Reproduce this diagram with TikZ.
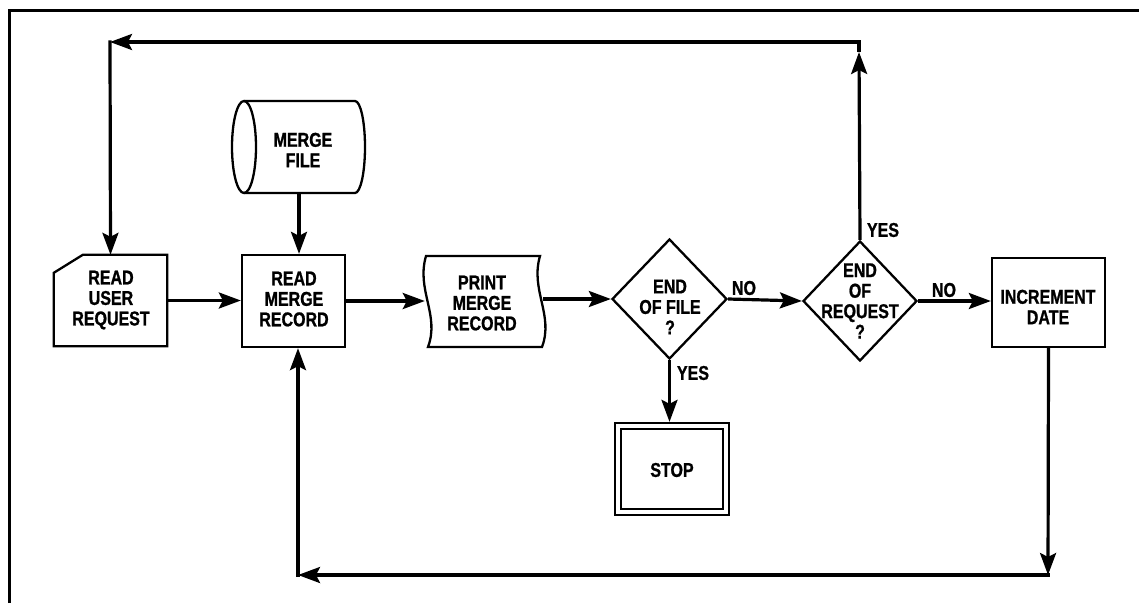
\documentclass[tikz,border=0pt]{standalone}
\usepackage{fontspec}
\setmainfont{Liberation Sans}[FakeStretch=0.8,BoldFeatures={FakeBold=1}]
\usetikzlibrary{shapes.geometric,arrows.meta,calc}
\begin{document}
\begin{tikzpicture}[x=1pt,y=-1pt,
  txt/.style={font=\bfseries\fontsize{20}{20.5}\selectfont, align=center, inner sep=0pt},
  shp/.style={draw, line width=2.3pt},
  box/.style={shp, inner sep=0pt},
  hold/.style={inner sep=0pt},
  conn/.style={line width=3.2pt, -{Stealth[length=22pt,width=16pt,inset=4pt]}},
  rconn/.style={conn, line cap=rect}]
\fill[white] (0,0) rectangle (1139,603);
\useasboundingbox (0,0) rectangle (1139,603);
% frame
\draw[line width=3pt] (9,603) -- (9,10) -- (1139,10);

% READ USER REQUEST (card)
\node[hold, minimum width=113pt, minimum height=91pt] (card) at (110.5,300.5) {};
\draw[shp] ([yshift=-18pt]card.north west) -- ([xshift=29pt]card.north west) -- (card.north east) -- (card.south east) -- (card.south west) -- cycle;
\node[txt] (cardt) at (111,300) {READ\\USER\\REQUEST};

% READ MERGE RECORD
\node[box, minimum width=103pt, minimum height=92pt] (rm) at (293.5,301) {};
\node[txt] (rmt) at (294,299) {READ\\MERGE\\RECORD};

% MERGE FILE (cylinder)
\node[hold, minimum width=133pt, minimum height=92pt] (cyl) at (299,147) {};
\draw[shp] (244,101) -- (355,101) arc[start angle=90, end angle=-90, x radius=10pt, y radius=46pt] -- (244,193);
\draw[shp] (244,147) ellipse[x radius=12pt, y radius=46pt];
\node[txt] (cylt) at (303,150) {MERGE\\FILE};

% PRINT MERGE RECORD
\node[hold, minimum width=118pt, minimum height=91pt] (pm) at (484,301) {};
\draw[shp] (426,256) .. controls (416,290) and (440,315) .. (428,347) -- (542,347) .. controls (554,315) and (530,290) .. (540,256) -- cycle;
\node[txt] (pmt) at (482,303) {PRINT\\MERGE\\RECORD};

% END OF FILE ?
\node[shp, shape=diamond, inner sep=0pt, minimum width=115pt, minimum height=120pt] (d1) at (669.5,299) {};
\node[txt] (d1t) at (670,307) {END\\OF FILE\\?};

% STOP
\node[box, minimum width=114pt, minimum height=92pt] (stop) at (672,469) {};
\draw[shp] ([shift={(7pt,-7pt)}]stop.north west) rectangle ([shift={(-7pt,7pt)}]stop.south east);
\node[txt] (stopt) at (672,470) {STOP};

% END OF REQUEST ?
\node[shp, shape=diamond, inner sep=0pt, minimum width=114pt, minimum height=120pt] (d2) at (860,301) {};
\node[txt] (d2t) at (860,301) {END\\OF\\REQUEST\\?};

% INCREMENT DATE
\node[box, minimum width=113pt, minimum height=89pt] (inc) at (1048.5,302.5) {};
\node[txt] (inct) at (1048,307) {INCREMENT\\DATE};

% labels
\node[txt] (no1) at (744,288) {NO};
\node[txt] (yes1) at (693,373) {YES};
\node[txt] (yes2) at (883,230) {YES};
\node[txt] (no2) at (944,290) {NO};

% loop coordinates
\coordinate (tl) at (110,42);
\coordinate (tr) at (859,42);
\coordinate (tra) at (859,52);
\coordinate (bl) at (298,575);
\coordinate (br) at (1048,575);

% connectors
\draw[conn] (card.east) -- (card.east -| rm.west);
\draw[conn] (cyl.south) -- (cyl.south |- rm.north);
\draw[conn] (rm.east) -- (rm.east -| pm.west);
\draw[conn] (d1.west -| pm.east) -- (d1.west);
\draw[conn] (d1.east) -- (d2.west);
\draw[conn] (d1.south) -- (d1.south |- stop.north);
\draw[conn] (d2.east) -- (d2.east -| inc.west);

\draw[conn] (d2.north) -- (tra);
\draw[conn] (tra) -- (tr) -- (tl);
\draw[rconn] (tl) -- (card.north);

\draw[conn] (inc.south) -- (br);
\draw[rconn] (br) -- (bl);
\draw[rconn] (bl) -- (bl |- rm.south);
\end{tikzpicture}
\end{document}
